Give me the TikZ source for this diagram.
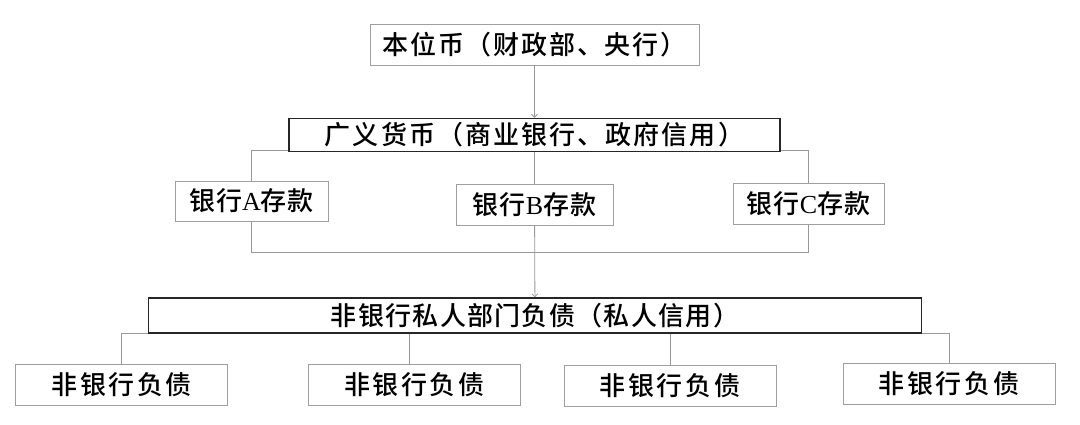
\documentclass[tikz,border=0pt]{standalone}
\usepackage{fontspec}
\setmainfont{Noto Sans CJK SC}[UprightFont=* Medium]
\newfontfamily\lat{Liberation Serif}
\usepackage{tikz}
\usetikzlibrary{calc}
\usetikzlibrary{arrows.meta}
\newcommand{\spaced}[1]{\addfontfeature{LetterSpace=#1}}
\tikzset{box/.style={draw=gray!75, line width=0.8pt, fill=white, inner sep=0pt, font=\fontsize{26}{28}\selectfont}}
\tikzset{bigbox/.style={box, draw=black!85, line width=1.4pt}}
\tikzset{link/.style={draw=gray!80, line width=0.8pt}}
\tikzset{tip/.style={-{Straight Barb[length=3pt, width=6pt]}}}

\begin{document}
\begin{tikzpicture}[x=1pt, y=-1pt]
    \useasboundingbox (0, 0) rectangle (1080, 424);

    \node [box, minimum width=329, minimum height=41] (TOP) at (534.5, 44.5) {\spaced{7}本位币（财政部、央行）};
    \node [bigbox, minimum width=491, minimum height=33] (BROAD) at (534.5, 135) {\spaced{8}广义货币（商业银行、政府信用）};
    \node [box, minimum width=153, minimum height=40] (DA) at (251.5, 201) {\spaced{4}银行{\lat A}存款};
    \node [box, minimum width=157, minimum height=41] (DB) at (534.5, 204.5) {\spaced{4}银行{\lat B}存款};
    \node [box, minimum width=151, minimum height=41] (DC) at (808.5, 204) {\spaced{4}银行{\lat C}存款};
    \node [bigbox, minimum width=773, minimum height=35] (PRIV) at (535, 315.5) {\spaced{5}非银行私人部门负债（私人信用）};
    \node [box, minimum width=212, minimum height=41] (NB1) at (121.7, 385) {\spaced{10}非银行负债};
    \node [box, minimum width=212, minimum height=41] (NB2) at (414.3, 385) {\spaced{10}非银行负债};
    \node [box, minimum width=212, minimum height=41] (NB3) at (670, 386) {\spaced{10}非银行负债};
    \node [box, minimum width=212, minimum height=41] (NB4) at (949, 383.4) {\spaced{10}非银行负债};
    \coordinate (J) at (534.5, 252.7);

    \draw [link, tip] (TOP) to (BROAD);
    \draw [link] ([yshift=2pt]BROAD.south west) -| (DA);
    \draw [link] ([yshift=2pt]BROAD.south east) -| (DC);
    \draw [link] (BROAD) to (DB);

    \draw [link] (DA) |- (J) -| (DC);
    \draw [link, tip] (DB) to (PRIV);

    \draw [link] (PRIV.south west) -| (NB1);
    \draw [link] (PRIV.south east) -| (NB4);
    \draw [link] ([xshift=-5pt]NB2.north |- PRIV.south) to ([xshift=-5pt]NB2.north);
    \draw [link] (NB3.north |- PRIV.south) to (NB3.north);

\end{tikzpicture}
\end{document}
